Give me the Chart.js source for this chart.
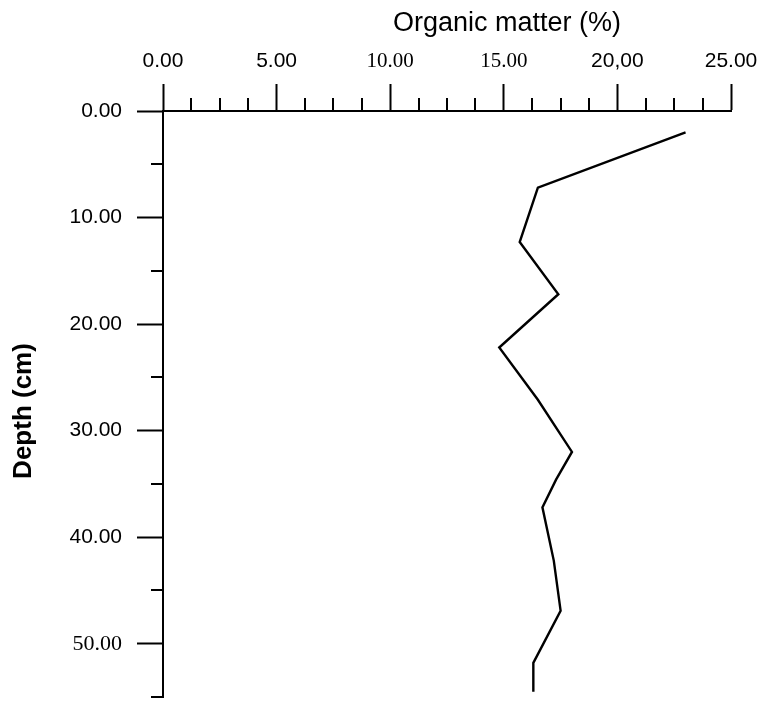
<!DOCTYPE html>
<html>
<head>
<meta charset="utf-8">
<script src="https://cdn.jsdelivr.net/npm/chart.js@4.4.1/dist/chart.umd.min.js"></script>
<style>
  html, body { margin: 0; padding: 0; background: #ffffff; }
  #wrap { width: 760px; height: 702px; position: relative; }
  canvas { display: block; }
</style>
</head>
<body>
<div id="wrap"><canvas id="c" width="760" height="702"></canvas></div>
<script>
// ---- Data ----
const organicMatter = [23.0, 16.5, 15.7, 17.4, 14.8, 16.5, 18.0, 17.3, 16.7, 17.2, 17.5, 16.3, 16.3];
const depthCm       = [2.0, 7.2, 12.3, 17.2, 22.2, 27.1, 32.0, 34.6, 37.2, 42.2, 46.9, 51.8, 54.5];

const xMajorTicks = [0, 5, 10, 15, 20, 25];
const xTickLabels = ['0.00', '5.00', '10.00', '15.00', '20,00', '25.00'];
const xMinorTicks = [1.25, 2.5, 3.75, 6.25, 7.5, 8.75, 11.25, 12.5, 13.75, 16.25, 17.5, 18.75, 21.25, 22.5, 23.75];

const yMajorTicks = [0, 10, 20, 30, 40, 50];
const yTickLabels = ['0.00', '10.00', '20.00', '30.00', '40.00', '50.00'];
const yMinorTicks = [5, 15, 25, 35, 45, 55];

const xTitle = 'Organic matter (%)';
const yTitle = 'Depth (cm)';

const points = organicMatter.map((v, i) => ({ x: v, y: depthCm[i] }));

const SANS = '"Liberation Sans", Arial, Helvetica, sans-serif';
const SERIF = '"Liberation Serif", "Times New Roman", serif';
const serifX = ['10.00', '15.00'];
const serifY = ['50.00'];

Chart.defaults.font.family = SANS;
Chart.defaults.color = '#000';

const extras = {
  id: 'extras',
  afterDraw(chart) {
    const { ctx } = chart;
    const x = chart.scales.x, y = chart.scales.y;
    ctx.save();
    ctx.strokeStyle = '#000';
    ctx.lineWidth = 2;
    ctx.beginPath();
    xMinorTicks.forEach(v => {
      const px = Math.round(x.getPixelForValue(v));
      ctx.moveTo(px, x.bottom);
      ctx.lineTo(px, x.bottom - 13);
    });
    yMinorTicks.forEach(v => {
      const py = Math.round(y.getPixelForValue(v));
      ctx.moveTo(y.right, py);
      ctx.lineTo(y.right - 12, py);
    });
    ctx.stroke();
    ctx.fillStyle = '#000';
    ctx.font = '27px ' + SANS;
    ctx.textAlign = 'center';
    ctx.textBaseline = 'alphabetic';
    ctx.fillText(xTitle, 507, 31);
    // y-axis title
    ctx.translate(24, 411);
    ctx.rotate(-Math.PI / 2);
    ctx.font = 'bold 26px ' + SANS;
    ctx.textBaseline = 'middle';
    ctx.fillText(yTitle, 0, 0);
    ctx.restore();
  }
};

new Chart(document.getElementById('c'), {
  type: 'scatter',
  data: {
    datasets: [{
      data: points,
      showLine: true,
      borderColor: '#000',
      borderWidth: 2.4,
      pointRadius: 0,
      pointHoverRadius: 0,
      tension: 0,
      fill: false,
      clip: false
    }]
  },
  options: {
    responsive: false,
    animation: false,
    events: [],
    layout: { padding: { left: 0, top: 0, right: 29, bottom: 5 } },
    plugins: { legend: { display: false }, tooltip: { enabled: false }, title: { display: false } },
    scales: {
      x: {
        type: 'linear',
        position: 'top',
        min: 0,
        max: 25,
        afterBuildTicks: (s) => { s.ticks = xMajorTicks.map(v => ({ value: v })); },
        afterFit: (s) => { s.height = 111; s.paddingLeft = 0; s.paddingRight = 0; },
        grid: { drawOnChartArea: false, drawTicks: true, tickLength: 27, tickWidth: 2, tickColor: '#000' },
        border: { display: true, color: '#000', width: 2 },
        ticks: {
          padding: 10,
          maxRotation: 0,
          autoSkip: false,
          color: '#000',
          callback: (v) => { const i = xMajorTicks.indexOf(v); return i >= 0 ? xTickLabels[i] : ''; },
          font: (ctx) => {
            const i = xMajorTicks.indexOf(ctx.tick ? ctx.tick.value : -1);
            const lbl = i >= 0 ? xTickLabels[i] : '';
            return serifX.includes(lbl) ? { family: SERIF, size: 21 } : { family: SANS, size: 21 };
          }
        },
        title: { display: false }
      },
      y: {
        type: 'linear',
        position: 'left',
        reverse: true,
        min: 0,
        max: 55,
        afterBuildTicks: (s) => { s.ticks = yMajorTicks.map(v => ({ value: v })); },
        afterFit: (s) => { s.width = 163; s.paddingTop = 0; s.paddingBottom = 0; },
        grid: { drawOnChartArea: false, drawTicks: true, tickLength: 26, tickWidth: 2, tickColor: '#000' },
        border: { display: true, color: '#000', width: 2 },
        ticks: {
          padding: 15,
          autoSkip: false,
          color: '#000',
          callback: (v) => { const i = yMajorTicks.indexOf(v); return i >= 0 ? yTickLabels[i] : ''; },
          font: (ctx) => {
            const i = yMajorTicks.indexOf(ctx.tick ? ctx.tick.value : -1);
            const lbl = i >= 0 ? yTickLabels[i] : '';
            return serifY.includes(lbl) ? { family: SERIF, size: 22 } : { family: SANS, size: 21 };
          }
        },
        title: { display: false }
      }
    }
  },
  plugins: [extras]
});
</script>
</body>
</html>
